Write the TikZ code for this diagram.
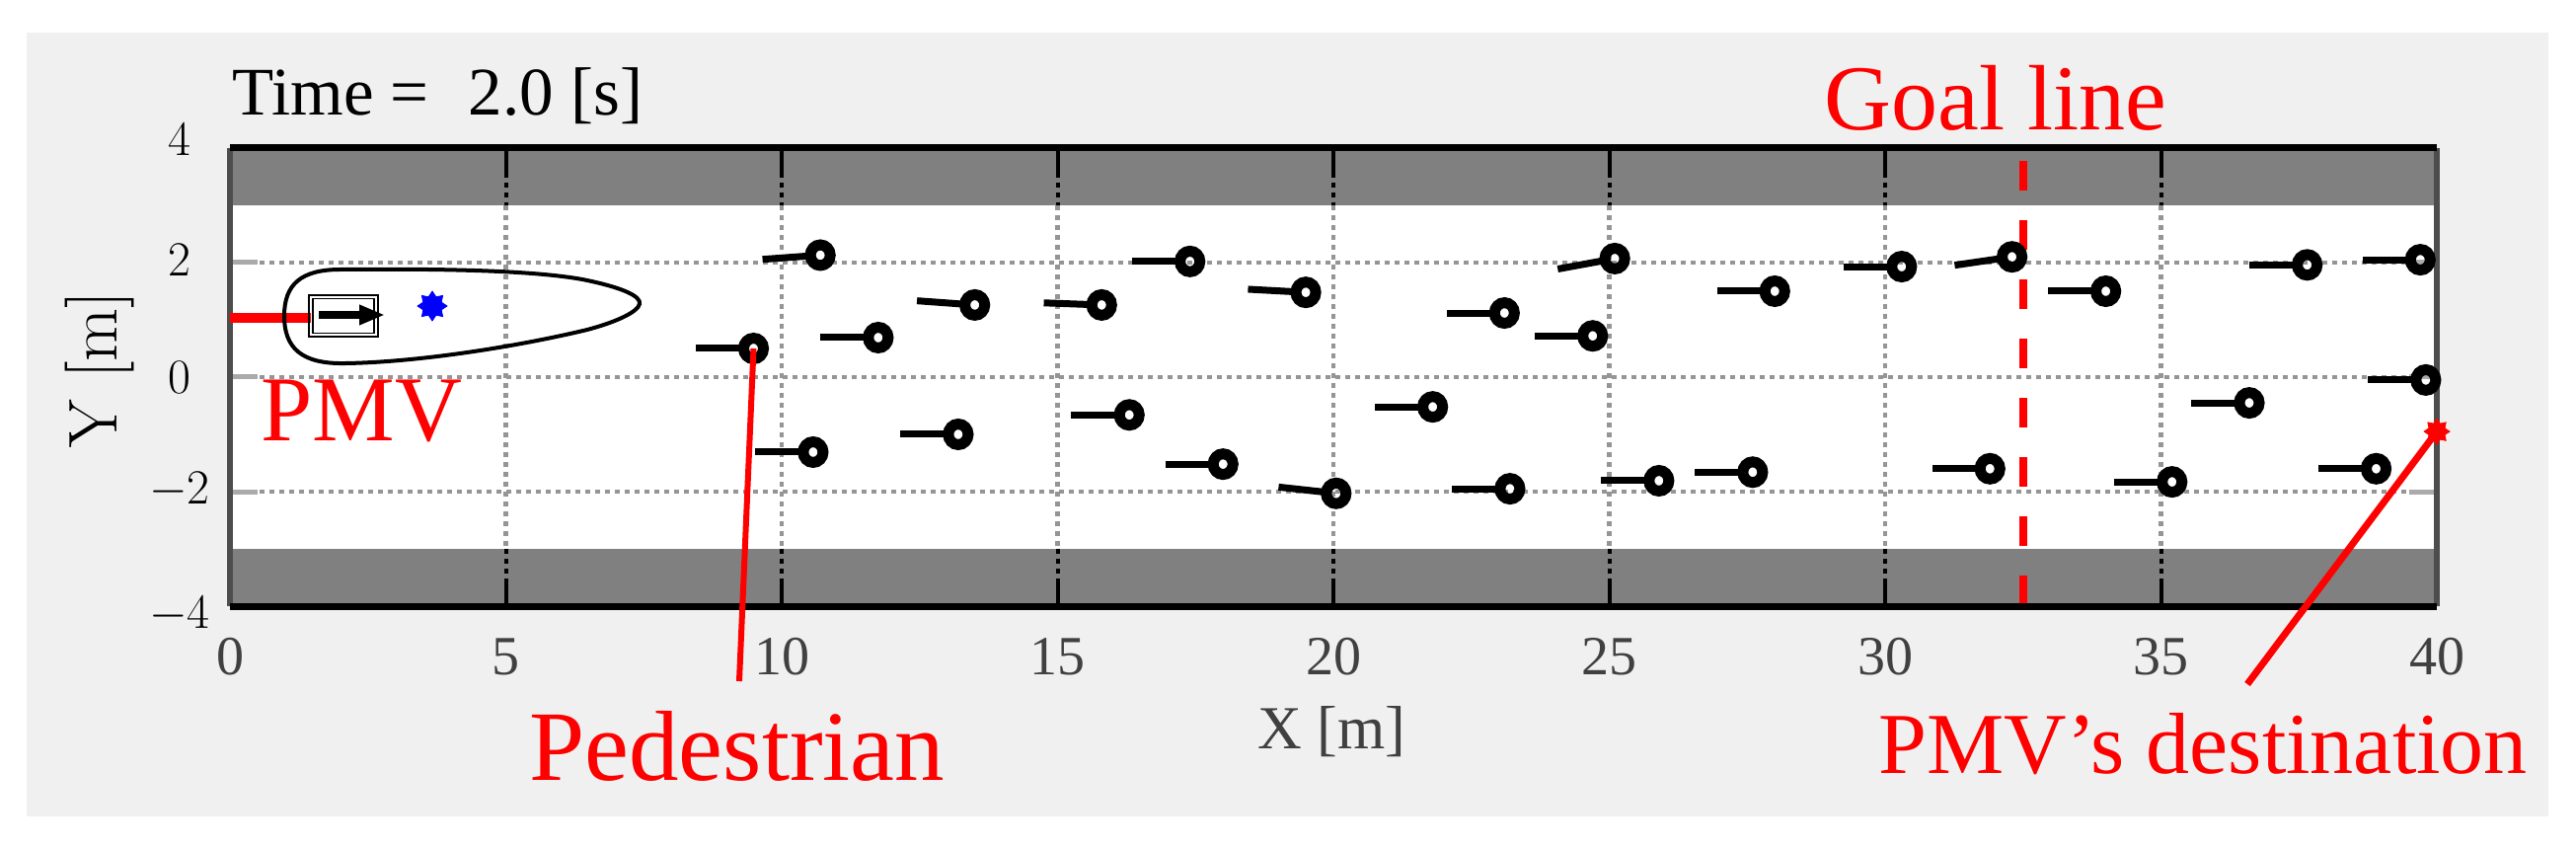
\documentclass[tikz,border=0pt]{standalone}
\usepackage{fontspec}
\newfontfamily\tnr{Liberation Serif}
\usetikzlibrary{arrows.meta,calc,shapes.geometric}
\definecolor{panelgray}{HTML}{F0F0F0}
\definecolor{bandgray}{HTML}{808080}
\definecolor{gridgray}{HTML}{959595}
\definecolor{axgray}{HTML}{4D4D4D}
\definecolor{tickgray}{HTML}{404040}
\tikzset{
  gridw/.style={gridgray, line width=2.2pt, dash pattern=on 2.3pt off 2.7pt},
  gridb/.style={black, line width=2pt, dash pattern=on 2.3pt off 2.7pt},
  xtickline/.style={black, line width=2pt},
  ytickline/.style={gridgray!80, line width=2.5pt},
  pedtail/.style={black, line width=3.5pt},
  pedring/.style={black, line width=5.5pt},
  redlbl/.style={red, font=\tnr\fontsize{47}{56}\selectfont, inner sep=0pt},
  redptr/.style={red, line width=3pt},
  goalstyle/.style={red, line width=4pt, dash pattern=on 15pt off 15pt},
  xticklbl/.style={font=\tnr\fontsize{28}{33}\selectfont, text=tickgray, inner sep=0pt},
  yticklbl/.style={font=\fontsize{29}{34}\selectfont, inner sep=0pt},
  markerstar/.style={star, star points=8, star point ratio=1.5, inner sep=0pt, minimum size=15pt},
}
\begin{document}
\begin{tikzpicture}[x=0.5pt,y=-0.5pt]
\useasboundingbox (0,0) rectangle (2610,860);
\fill[white] (0,0) rectangle (2610,860);
\fill[panelgray] (27,33) rectangle (2582,827);
\begin{scope}[shift={(233,382)},x=27.95pt,y=29pt]
  \fill[white] (0,-4) rectangle (40,4);
  \fill[bandgray] (0,3) rectangle (40,4);
  \fill[bandgray] (0,-4) rectangle (40,-3);
  \foreach \gy in {-2,0,2} {
    \draw[gridw] (0,\gy) -- (40,\gy);
    \draw[ytickline] (0,\gy) -- (0.5,\gy);
    \draw[ytickline] (40,\gy) -- (39.5,\gy);
  }
  \foreach \gx in {5,10,...,35} {
    \draw[gridw] (\gx,3) -- (\gx,-3);
    \draw[gridb] (\gx,3.57) -- (\gx,3);
    \draw[gridb] (\gx,-3) -- (\gx,-3.57);
    \draw[xtickline] (\gx,4) -- (\gx,3.57);
    \draw[xtickline] (\gx,-4) -- (\gx,-3.57);
  }
  \draw[goalstyle] (32.5,3.78) -- (32.5,-4);
  \draw[axgray, line width=3pt] (0,-4) -- (0,4) (40,-4) -- (40,4);
  \draw[black, line width=3.5pt] (0,4) -- (40,4) (0,-4) -- (40,-4);
  % PMV trail
  \coordinate (trailstart) at (0,1.03);
  \coordinate (trailend) at (1.47,1.03);
  \draw[red, line width=5pt] (trailstart) -- (trailend);
  % pedestrians
  \foreach \pn/\pX/\pY/\pA in {
    1/17.4/2.02/180, 2/25.1/2.07/190, 3/13.5/1.26/176, 4/15.8/1.26/178,
    5/11.75/0.69/180, 6/19.5/1.48/177, 7/23.1/1.12/180, 8/24.7/0.72/180,
    10/16.3/-0.66/180, 11/13.2/-1.0/180, 12/21.8/-0.52/180, 13/18.0/-1.52/180,
    14/20.05/-2.03/174, 15/23.2/-1.95/180, 16/25.9/-1.81/180, 18/10.7/2.13/184,
    19/9.49/0.5/180, 21/10.57/-1.31/180, 22/30.3/1.93/180, 23/32.3/2.1/188,
    24/28.0/1.5/180, 25/34.0/1.5/180, 26/37.65/1.96/180, 27/39.7/2.05/180,
    28/39.8/-0.05/180, 29/36.6/-0.45/180, 30/27.6/-1.66/180, 31/31.9/-1.6/180,
    32/35.2/-1.83/180, 33/38.9/-1.6/180} {
    \coordinate (p\pn) at (\pX,\pY);
    \draw[pedtail] ($(p\pn)+(\pA:0.22)$) -- ($(p\pn)+(\pA:1.05)$);
    \draw[pedring] (p\pn) circle[radius=0.18];
  }
  \node[markerstar, fill=red, draw=red, minimum size=13pt] (dest) at (40,-0.95) {};
\end{scope}
% PMV contour
\draw[black, line width=2pt] (288,320) .. controls (288,288) and (305,273) .. (345,273)
  .. controls (450,272) and (540,274) .. (590,283)
  .. controls (630,291) and (650,300) .. (648,308)
  .. controls (646,316) and (625,326) .. (595,334)
  .. controls (520,352) and (420,367) .. (350,368)
  .. controls (305,369) and (288,352) .. (288,320) -- cycle;
\node[draw, line width=0.8pt, minimum width=35pt, minimum height=21pt, inner sep=0] (bodyout) at (348,320) {};
\node[draw, line width=0.6pt, minimum width=31pt, minimum height=17.5pt, inner sep=0] (bodyin) at (348,320) {};
\coordinate (arrs) at (323,319);
\coordinate (arre) at (390,319);
\draw[black, line width=4pt, -{Triangle[length=13pt,width=9.5pt]}] (arrs) -- (arre);
\node[markerstar, fill=blue, draw=blue] (goalpt) at (438,310) {};
% labels
\node[anchor=base west, font=\tnr\fontsize{34.5}{41}\selectfont, inner sep=0pt] (timelbl) at (235,117) {Time =\hspace{20pt}2.0 [s]};
\node[redlbl, anchor=base west] (goallbl) at (1848,132) {Goal line};
\node[redlbl, anchor=base west] (pmvlbl) at (264,447) {PMV};
\node[redlbl, font=\tnr\fontsize{50.5}{60}\selectfont, anchor=base west] (pedlbl) at (536,790) {Pedestrian};
\node[redlbl, font=\tnr\fontsize{44}{52}\selectfont, anchor=base west] (destlbl) at (1903,783) {PMV’s destination};
\node[anchor=base, font=\tnr\fontsize{31}{37}\selectfont, text=tickgray, inner sep=0pt] (xlab) at (1349,758) {X [m]};
\node[rotate=90, anchor=base, font=\fontsize{35}{42}\selectfont, inner sep=0pt] (ylab) at (118,374) {Y [m]};
\foreach \t in {0,5,...,40} \node[xticklbl] (xt\t) at ({233+\t*55.9},665) {\t};
\foreach \nm/\t/\yp in {ya/4/141,yb/2/263,yc/0/382,yd/-2/497,ye/-4/623}
  \node[yticklbl] (\nm) at (182,\yp) {$\t$};
% pointers
\coordinate (pedend) at (749,690);
\coordinate (destend) at (2277,693);
\draw[redptr] (p19) -- (pedend);
\draw[redptr, line width=3.5pt] (dest.center) -- (destend);
\end{tikzpicture}
\end{document}
